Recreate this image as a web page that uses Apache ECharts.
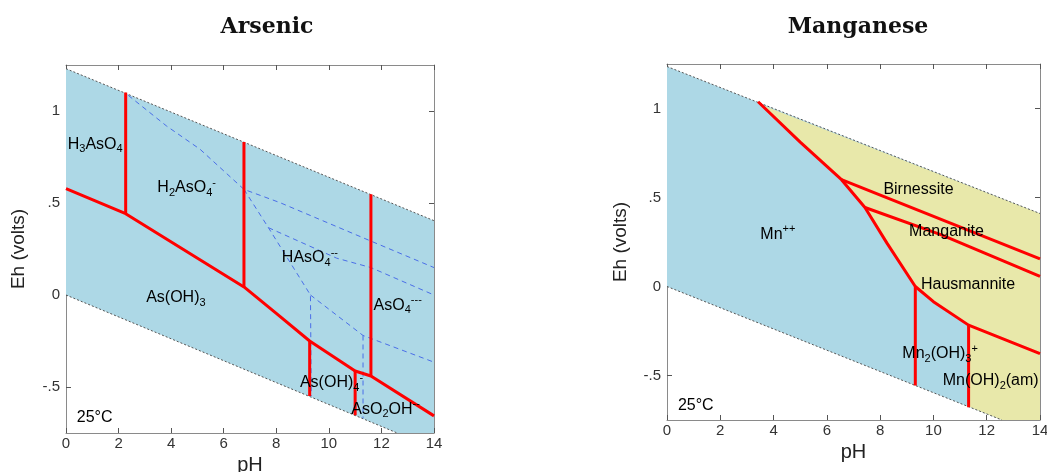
<!DOCTYPE html>
<html>
<head>
<meta charset="utf-8">
<script src="https://cdn.jsdelivr.net/npm/echarts@6/dist/echarts.min.js"></script>
<style>
  html, body { margin: 0; padding: 0; background: #fff; }
  #main { width: 1047px; height: 472px; }
</style>
</head>
<body>
<div id="main"></div>
<script>
// ---- data (pH, Eh in volts) ----
var phTicks = [0, 2, 4, 6, 8, 10, 12, 14];
var ehTicks = [-0.5, 0, 0.5, 1];

// water stability limits
var asWaterUpper = [[0, 1.23], [14, 0.404]];
var asWaterLower = [[0, 0], [12.6, -0.75]];
var mnWaterUpper = [[0, 1.236], [14, 0.41]];
var mnWaterLower = [[0, 0], [12.57, -0.75]];
var asBand = [[0, 1.23], [14, 0.404], [14, -0.75], [12.6, -0.75], [0, 0]];
var mnBand = [[0, 1.236], [14, 0.41], [14, -0.75], [12.57, -0.75], [0, 0]];

// arsenic boundaries
var asRedMain = [[0, 0.578], [2.27, 0.442], [6.77, 0.044], [8.0, -0.1], [9.27, -0.25], [11.0, -0.413], [11.6, -0.44], [14, -0.657]];
var asRedV1 = [[2.27, 1.10], [2.27, 0.442]];
var asRedV2 = [[6.77, 0.832], [6.77, 0.044]];
var asRedV3 = [[11.6, 0.547], [11.6, -0.44]];
var asRedV4 = [[9.27, -0.25], [9.27, -0.549]];
var asRedV5 = [[11.0, -0.413], [11.0, -0.654]];
var asDashA = [[2.37, 1.085], [3.83, 0.918], [5.1, 0.792], [6.77, 0.574], [8.14, 0.502], [11.6, 0.293], [14, 0.149]];
var asDashB = [[6.77, 0.574], [7.7, 0.366], [9.3, 0.0], [9.33, -0.55]];
var asDashC = [[7.7, 0.366], [10.3, 0.2], [11.6, 0.149], [14, 0.0]];
var asDashD = [[9.3, 0.0], [11.3, -0.22], [14, -0.365]];
var asDashE = [[11.3, -0.22], [11.3, -0.67]];

// manganese boundaries
var mnSolidField = [[3.42, 1.028], [14, 0.41], [14, -0.75], [12.57, -0.75], [11.32, -0.674], [11.32, -0.217], [10.0, -0.085], [9.32, 0.0], [8.25, 0.245], [7.43, 0.444], [6.55, 0.6], [5.0, 0.811], [3.42, 1.038]];
var mnRedMain = [[3.42, 1.038], [5.0, 0.811], [6.55, 0.6], [7.43, 0.444], [8.25, 0.245], [9.32, 0.0], [10.0, -0.085], [11.32, -0.217], [14, -0.377]];
var mnBirnessite = [[6.55, 0.6], [14, 0.155]];
var mnManganite = [[7.43, 0.444], [10.3, 0.29], [14, 0.057]];
var mnRedV1 = [[9.32, 0.0], [9.32, -0.556]];
var mnRedV2 = [[11.32, -0.217], [11.32, -0.679]];

// labels
var asLabelText = ['{n|H}{b|3}{n|AsO}{b|4}', '{n|H}{b|2}{n|AsO}{b|4}{t|-}', '{n|HAsO}{b|4}{t|--}', '{n|As(OH)}{b|3}',
  '{n|AsO}{b|4}{t|---}', '{n|As(OH)}{b|4}{t|-}', '{n|AsO}{b|2}{n|OH}{t|--}', '{c|25°C}'];
var asLabelPos = [[1.11, 0.819], [4.59, 0.584], [9.28, 0.203], [4.18, -0.014], [12.62, -0.056], [10.1, -0.476], [12.16, -0.621], [1.09, -0.666]];
var mnLabelText = ['{n|Mn}{t|++}', '{n|Birnessite}', '{n|Manganite}', '{n|Hausmannite}',
  '{n|Mn}{b|2}{n|(OH)}{b|3}{t|+}', '{n|Mn(OH)}{b|2}{n|(am)}', '{c|25°C}'];
var mnLabelPos = [[4.16, 0.293], [9.44, 0.543], [10.49, 0.306], [11.3, 0.01], [10.25, -0.377], [12.15, -0.528], [1.08, -0.67]];

var chart = echarts.init(document.getElementById('main'));

var FONT = '"Liberation Sans", Arial, sans-serif';
var RED = '#ff0000';

function ehFormat(v) {
  if (v === 0) return '0';
  return String(v).replace('0.', '.');
}

function xAxisPair(grid) {
  var base = {
    gridIndex: grid, type: 'value', min: 0, max: 14, interval: 2,
    splitLine: { show: false },
    axisLine: { show: true, onZero: false, lineStyle: { color: '#8a8a8a', width: 1 } },
    axisTick: { show: true, inside: true, length: 5, lineStyle: { color: '#555' } }
  };
  return [
    Object.assign({}, base, {
      position: 'bottom',
      axisLabel: { fontSize: 15, color: '#333', fontFamily: FONT, margin: 3 },
      name: 'pH', nameLocation: 'middle', nameGap: grid === 0 ? 19 : 17,
      nameTextStyle: { fontSize: 20, color: '#222', fontFamily: FONT }
    }),
    Object.assign({}, base, { position: 'top', axisLabel: { show: false } })
  ];
}

function yAxisPair(grid) {
  var base = {
    gridIndex: grid, type: 'value', min: -0.75, max: 1.25,
    splitLine: { show: false },
    axisLine: { show: true, onZero: false, lineStyle: { color: '#8a8a8a', width: 1 } },
    axisTick: { show: true, inside: true, length: 5, customValues: ehTicks, lineStyle: { color: '#555' } }
  };
  return [
    Object.assign({}, base, {
      position: 'left',
      axisLabel: { fontSize: 15, color: '#333', fontFamily: FONT, margin: 6, customValues: ehTicks, formatter: ehFormat },
      name: 'Eh (volts)', nameLocation: 'middle', nameGap: grid === 0 ? 38 : 37, nameRotate: 90,
      nameTextStyle: { fontSize: 19, color: '#222', fontFamily: FONT }
    }),
    Object.assign({}, base, { position: 'right', axisLabel: { show: false } })
  ];
}

function polygon(pts, color, axis) {
  return {
    type: 'custom', xAxisIndex: axis, yAxisIndex: axis, silent: true, z: 1,
    data: [0],
    renderItem: function (params, api) {
      return { type: 'polygon', shape: { points: pts.map(function (p) { return api.coord(p); }) }, style: { fill: color } };
    }
  };
}

function line(data, axis, style, z) {
  return {
    type: 'line', xAxisIndex: axis, yAxisIndex: axis, data: data, symbol: 'none',
    silent: true, animation: false, z: z, lineStyle: style
  };
}

function labels(texts, pos, axis) {
  return {
    type: 'custom', xAxisIndex: axis, yAxisIndex: axis, silent: true, z: 10,
    data: pos,
    renderItem: function (params, api) {
      var p = api.coord([api.value(0), api.value(1)]);
      return {
        type: 'text', x: p[0], y: p[1],
        style: {
          text: texts[params.dataIndex], align: 'center', verticalAlign: 'middle',
          rich: {
            n: { fontSize: 16, fontFamily: FONT, color: '#222', lineHeight: 21 },
            b: { fontSize: 11, fontFamily: FONT, color: '#222', verticalAlign: 'bottom', lineHeight: 21 },
            t: { fontSize: 11, fontFamily: FONT, color: '#222', verticalAlign: 'top', lineHeight: 21 },
            c: { fontSize: 16, fontFamily: FONT, color: '#222', lineHeight: 21 }
          }
        }
      };
    }
  };
}

var waterStyle = { color: '#555', width: 1, type: [2, 2] };
var redStyle = { color: RED, width: 3 };
var dashStyle = { color: '#4a6ee8', width: 1, type: [5, 4] };

var series = [
  polygon(asBand, '#add8e6', 0),
  polygon(mnBand, '#add8e6', 2),
  polygon(mnSolidField, '#e8e8aa', 2),
  line(asWaterUpper, 0, waterStyle, 2),
  line(asWaterLower, 0, waterStyle, 2),
  line(mnWaterUpper, 2, waterStyle, 2),
  line(mnWaterLower, 2, waterStyle, 2),
  line(asDashA, 0, dashStyle, 3),
  line(asDashB, 0, dashStyle, 3),
  line(asDashC, 0, dashStyle, 3),
  line(asDashD, 0, dashStyle, 3),
  line(asDashE, 0, dashStyle, 3),
  line(asRedMain, 0, redStyle, 4),
  line(asRedV1, 0, redStyle, 4),
  line(asRedV2, 0, redStyle, 4),
  line(asRedV3, 0, redStyle, 4),
  line(asRedV4, 0, redStyle, 4),
  line(asRedV5, 0, redStyle, 4),
  line(mnRedMain, 2, redStyle, 4),
  line(mnBirnessite, 2, redStyle, 4),
  line(mnManganite, 2, redStyle, 4),
  line(mnRedV1, 2, redStyle, 4),
  line(mnRedV2, 2, redStyle, 4),
  labels(asLabelText, asLabelPos, 0),
  labels(mnLabelText, mnLabelPos, 2)
];

var option = {
  animation: false,
  backgroundColor: '#fff',
  grid: [
    { left: 66, top: 65, width: 368, height: 368, outerBoundsMode: 'none' },
    { left: 667, top: 64, width: 373, height: 356, outerBoundsMode: 'none' }
  ],
  xAxis: xAxisPair(0).concat(xAxisPair(1)),
  yAxis: yAxisPair(0).concat(yAxisPair(1)),
  graphic: [
    { type: 'text', x: 267, y: 27, style: { text: 'Arsenic', font: 'bold 22px "DejaVu Serif", serif', fill: '#111', align: 'center', verticalAlign: 'middle' } },
    { type: 'text', x: 858, y: 27, style: { text: 'Manganese', font: 'bold 22px "DejaVu Serif", serif', fill: '#111', align: 'center', verticalAlign: 'middle' } }
  ],
  series: series
};

chart.setOption(option);
</script>
</body>
</html>
